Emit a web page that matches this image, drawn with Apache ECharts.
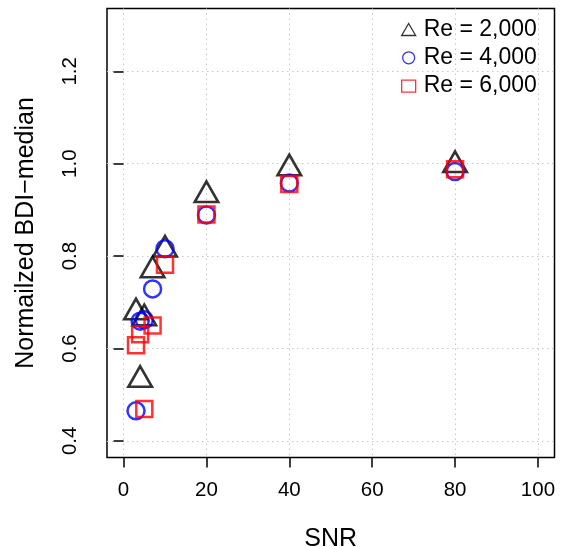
<!DOCTYPE html>
<html>
<head>
<meta charset="utf-8">
<script src="https://cdn.jsdelivr.net/npm/echarts@6/dist/echarts.min.js"></script>
<style>
    html, body {margin: 0; padding: 0; background: #fff;}
    #main {width: 561px; height: 547px;}
</style>
</head>
<body>
<div id="main"></div>
<script>
    // 数据
    var snr = [3, 4, 5, 7, 10, 20, 40, 80];
    var re2000 = [0.678, 0.532, 0.665, 0.769, 0.814, 0.932, 0.990, 0.997];
    var re4000 = [0.465, 0.659, 0.662, 0.729, 0.816, 0.889, 0.958, 0.983];
    var re6000 = [0.607, 0.631, 0.469, 0.650, 0.781, 0.890, 0.956, 0.988];
    var xTicks = [0, 20, 40, 60, 80, 100];
    var yTicks = [0.4, 0.6, 0.8, 1.0, 1.2];
    var names = ['Re = 2,000', 'Re = 4,000', 'Re = 6,000'];

    var font = 'Liberation Sans, Arial, Helvetica, sans-serif';

    function pairs(ys) {
        var out = [];
        for (var i = 0; i < snr.length; i++) {
            out.push([snr[i], ys[i]]);
        }
        return out;
    }

    function gridLine() {
        return {show: true, lineStyle: {color: '#c8c8c8', width: 1, type: [1.5, 3.5]}};
    }

    var chart = echarts.init(document.getElementById('main'));

    chart.setOption({
        animation: false,
        grid: {
            left: 107, right: 6.5, top: 8.5, bottom: 89.5,
            outerBoundsMode: 'none',
            containLabel: false,
            show: true, borderColor: '#000', borderWidth: 1.5, backgroundColor: 'transparent'
        },
        legend: {
            orient: 'vertical',
            left: 396,
            top: 13,
            itemWidth: 14,
            itemHeight: 12,
            itemGap: 5.3,
            textStyle: {fontFamily: font, fontSize: 23, color: '#000', lineHeight: 23, padding: [0, 0, 0, 3]},
            data: [
                {name: names[0], icon: 'triangle', itemStyle: {color: 'transparent', borderColor: '#000', borderWidth: 1.3}},
                {name: names[1], icon: 'circle', itemStyle: {color: 'transparent', borderColor: '#0000ff', borderWidth: 1.3}},
                {name: names[2], icon: 'rect', itemStyle: {color: 'transparent', borderColor: '#ff0000', borderWidth: 1.3}}
            ]
        },
        xAxis: {
            type: 'value',
            min: -4,
            max: 104,
            name: 'SNR',
            nameLocation: 'middle',
            nameGap: 69,
            nameTextStyle: {fontFamily: font, fontSize: 25, color: '#000'},
            axisLine: {show: false},
            axisTick: {show: true, length: 10, customValues: xTicks, lineStyle: {color: '#000', width: 1.5}},
            axisLabel: {customValues: xTicks, margin: 22, fontFamily: font, fontSize: 20.5, color: '#000'},
            splitLine: gridLine()
        },
        yAxis: {
            type: 'value',
            min: 0.364,
            max: 1.336,
            name: 'Normailzed BDI\u2212median',
            nameLocation: 'middle',
            nameGap: 68.5,
            nameTextStyle: {fontFamily: font, fontSize: 25, color: '#000'},
            axisLine: {show: false},
            axisTick: {show: true, length: 10, customValues: yTicks, lineStyle: {color: '#000', width: 1.5}},
            axisLabel: {
                customValues: yTicks, rotate: 90, margin: 26,
                fontFamily: font, fontSize: 20.5, color: '#000',
                formatter: function (v) { return v.toFixed(1); }
            },
            splitLine: gridLine()
        },
        series: [
            {
                name: names[0],
                type: 'scatter',
                symbol: 'triangle',
                symbolSize: [23.5, 20.5],
                symbolOffset: [0, -3.4],
                itemStyle: {color: 'transparent', borderColor: '#000', borderWidth: 2.6, borderJoin: 'miter'},
                data: pairs(re2000)
            },
            {
                name: names[1],
                type: 'scatter',
                symbol: 'circle',
                symbolSize: 17,
                itemStyle: {color: 'transparent', borderColor: '#0000ff', borderWidth: 2.5},
                data: pairs(re4000)
            },
            {
                name: names[2],
                type: 'scatter',
                symbol: 'rect',
                symbolSize: 16,
                itemStyle: {color: 'transparent', borderColor: '#ff0000', borderWidth: 2.5, borderJoin: 'miter'},
                data: pairs(re6000)
            }
        ]
    });
</script>
</body>
</html>
